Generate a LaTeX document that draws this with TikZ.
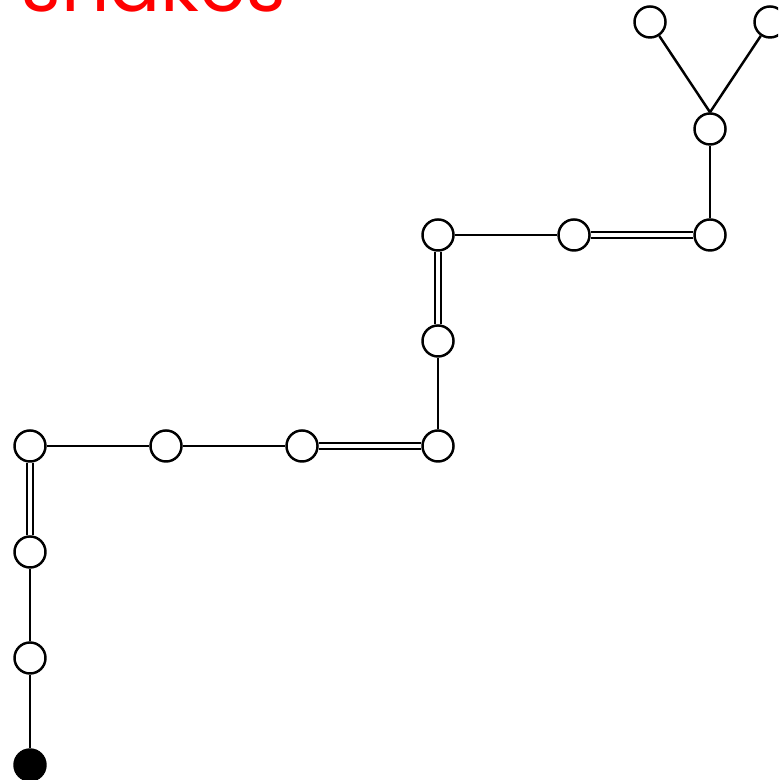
\documentclass[tikz,border=0pt]{standalone}
\usepackage{fontspec}
\newfontfamily\snakefont{Poppins}

\begin{document}
\begin{tikzpicture}[x=0.01cm,y=0.01cm,line width=0.7pt,
    vert/.style={circle,draw,fill=white,inner sep=0pt,minimum size=0.31cm},
    root/.style={vert,fill=black},
    dbl/.style={double,double distance=1pt}]
    \clip (0,0) rectangle (778,780);
    \useasboundingbox (0,0) rectangle (778,780);
    \node[anchor=base west,text=red,font=\snakefont\fontsize{21.5}{25}\selectfont] (title) at (9,768) {snakes};
    % vertices
    \node[root] (v1) at (30,15) {};
    \node[vert] (v2) at (30,122) {};
    \node[vert] (v3) at (30,228) {};
    \node[vert] (v4) at (30,334) {};
    \node[vert] (v5) at (166,334) {};
    \node[vert] (v6) at (302,334) {};
    \node[vert] (v7) at (438,334) {};
    \node[vert] (v8) at (438,439) {};
    \node[vert] (v9) at (438,545) {};
    \node[vert] (v10) at (574,545) {};
    \node[vert] (v11) at (710,545) {};
    \node[vert] (v12) at (710,651) {};
    \node[vert] (v13) at (650,758) {};
    \node[vert] (v14) at (770,758) {};
    % edges
    \draw (v1)--(v2);
    \draw (v2)--(v3);
    \draw[dbl] (v3)--(v4);
    \draw (v4)--(v5);
    \draw (v5)--(v6);
    \draw[dbl] (v6)--(v7);
    \draw (v7)--(v8);
    \draw[dbl] (v8)--(v9);
    \draw (v9)--(v10);
    \draw[dbl] (v10)--(v11);
    \draw (v11)--(v12);
    \draw (v12.north)--(v13);
    \draw (v12.north)--(v14);
\end{tikzpicture}
\end{document}
